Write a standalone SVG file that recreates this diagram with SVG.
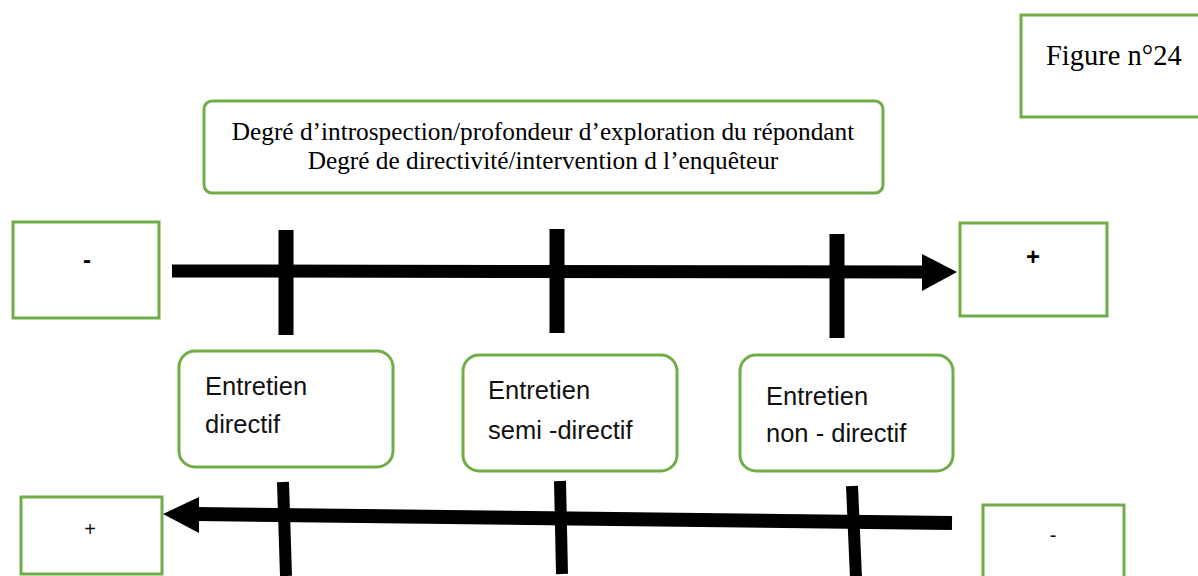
<svg xmlns="http://www.w3.org/2000/svg" width="1198" height="576" viewBox="0 0 1198 576">
<style>
.box{fill:#fff;stroke:#70AD47;stroke-width:3}
.serif{font-family:"Liberation Serif","Times New Roman",serif;fill:#000}
.sans{font-family:"Liberation Sans",Arial,sans-serif;fill:#111}
.sign{font-family:"Liberation Sans",Arial,sans-serif;fill:#000;font-weight:bold;text-anchor:middle}
.bar{stroke:#000;fill:none}
.head{fill:#000}
</style>
<rect width="1198" height="576" fill="#fff"/>
<g id="figure-label">
<rect class="box" x="1021" y="15" width="190" height="102"/>
<text class="serif" x="1046" y="65" font-size="28.5">Figure n°24</text>
</g>
<g id="header">
<rect class="box" x="204" y="101" width="679" height="92" rx="8"/>
<text class="serif" x="543" y="140" font-size="25.3" text-anchor="middle">Degré d’introspection/profondeur d’exploration du répondant</text>
<text class="serif" x="543" y="169" font-size="25.3" text-anchor="middle">Degré de directivité/intervention d l’enquêteur</text>
</g>
<g id="minus-top">
<rect class="box" x="13" y="222" width="146" height="96"/>
<text class="sign" x="87" y="268" font-size="24">-</text>
</g>
<g id="plus-top">
<rect class="box" x="960" y="223" width="147" height="93"/>
<text class="sign" x="1033" y="265" font-size="24">+</text>
</g>
<g id="directif">
<rect class="box" x="179" y="351" width="214" height="116" rx="16"/>
<text class="sans" x="205" y="395" font-size="25.5">Entretien</text>
<text class="sans" x="205" y="433" font-size="25.5">directif</text>
</g>
<g id="semi-directif">
<rect class="box" x="463" y="355" width="214" height="116" rx="16"/>
<text class="sans" x="488" y="399" font-size="25.5">Entretien</text>
<text class="sans" x="488" y="439" font-size="25.5">semi -directif</text>
</g>
<g id="non-directif">
<rect class="box" x="740" y="355" width="213" height="116" rx="16"/>
<text class="sans" x="766" y="405" font-size="25.5">Entretien</text>
<text class="sans" x="766" y="442" font-size="25.5">non - directif</text>
</g>
<g id="plus-bottom">
<rect class="box" x="21" y="497" width="141" height="77"/>
<text class="sans" x="90" y="536" font-size="20" text-anchor="middle" fill="#000">+</text>
</g>
<g id="minus-bottom">
<rect class="box" x="983" y="505" width="141" height="80"/>
<text class="sans" x="1053" y="542" font-size="20" text-anchor="middle" fill="#000">-</text>
</g>
<g id="connectors">
<line class="bar" x1="172" y1="271" x2="925" y2="272" stroke-width="13"/>
<polygon class="head" points="922,254 957,272 922,291"/>
<line class="bar" x1="286" y1="230" x2="286" y2="335" stroke-width="15"/>
<line class="bar" x1="557" y1="229" x2="557" y2="333" stroke-width="15"/>
<line class="bar" x1="837" y1="234" x2="837" y2="338" stroke-width="15"/>
<line class="bar" x1="952" y1="523" x2="196" y2="514" stroke-width="14"/>
<polygon class="head" points="199,497 163,514 199,533"/>
<line class="bar" x1="283" y1="482" x2="286" y2="576" stroke-width="12"/>
<line class="bar" x1="560" y1="481" x2="562" y2="574" stroke-width="12"/>
<line class="bar" x1="852" y1="486" x2="856" y2="578" stroke-width="12"/>
</g>
</svg>
